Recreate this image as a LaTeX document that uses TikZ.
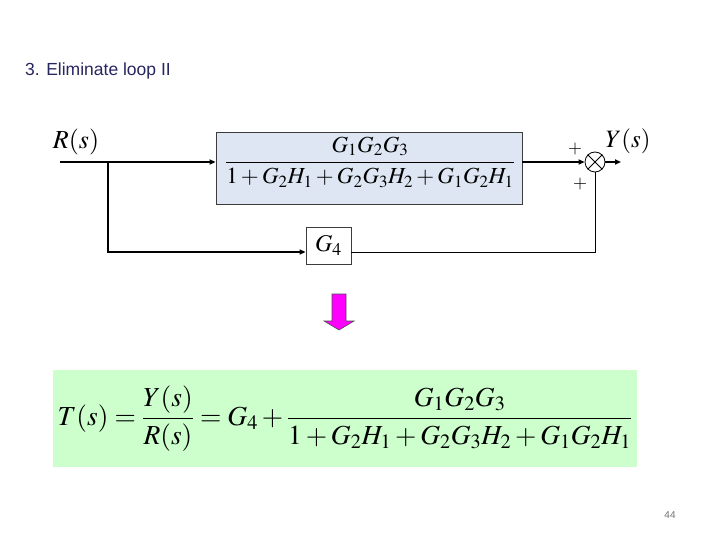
\documentclass[tikz,border=0pt]{standalone}
\usepackage{amsmath}
\usepackage{mathptmx}
\usepackage{fontspec}
\setmainfont{Liberation Serif}
\newfontfamily\arialfont{Liberation Sans}
\usetikzlibrary{arrows.meta}
\definecolor{titleblue}{RGB}{38,38,96}
\definecolor{boxblue}{RGB}{221,230,242}
\definecolor{eqgreen}{RGB}{204,255,204}
\definecolor{boxgray}{RGB}{60,60,60}
\definecolor{arrowpink}{RGB}{255,0,255}
\tikzset{
  sig/.style={line width=1.5pt},
  thin sig/.style={line width=0.8pt},
  tip/.style={-{Triangle[length=6pt,width=5pt]}},
  block/.style={draw=boxgray, line width=0.8pt, inner sep=0pt},
}
\begin{document}
\begin{tikzpicture}[x=1pt,y=-1pt]
  \useasboundingbox (0,0) rectangle (720,540);
  \draw
    (25,76) node[anchor=base west, inner sep=0pt, font=\arialfont\fontsize{17.5}{20}\selectfont, text=titleblue] (title) {3. Eliminate loop II}
    (76,142) node[font=\fontsize{26}{30}\selectfont] (R) {$R(s)$}
    (369,168) node[block, fill=boxblue, minimum width=306, minimum height=72] (G) {}
    (370,162) node[font=\fontsize{23}{26}\selectfont] (frac) {$\dfrac{G_1G_2G_3}{1+G_2H_1+G_2G_3H_2+G_1G_2H_1}$}
    (595,162) node[circle, draw, thin sig, minimum size=20, inner sep=0pt] (sum) {}
    (628,141) node[font=\fontsize{25}{28}\selectfont] (Y) {$Y(s)$}
    (575,149) node[font=\fontsize{18}{20}\selectfont] (p1) {$+$}
    (580,184) node[font=\fontsize{18}{20}\selectfont] (p2) {$+$}
    (328.5,245.5) node[block, minimum width=45, minimum height=37, font=\fontsize{24}{28}\selectfont] (G4) {$G_4$}
    (345,418.5) node[fill=eqgreen, minimum width=584, minimum height=97, font=\fontsize{27.5}{32}\selectfont] (T) {$T(s)=\dfrac{Y(s)}{R(s)}=G_4+\dfrac{G_1G_2G_3}{1+G_2H_1+G_2G_3H_2+G_1G_2H_1}$}
    (670,515) node[font=\arialfont\fontsize{10}{12}\selectfont, text=black!55] (page) {44};
  \coordinate (in) at (60,162);
  \coordinate (br) at (108,162);
  \coordinate (out) at (621,162);
  \draw[thin sig] (sum.north west) -- (sum.south east) (sum.north east) -- (sum.south west);
  \begin{scope}[tip]
    \draw[sig] (in) -- (in -| G.west);
    \draw[sig] (G.east |- sum) -- (sum.west);
    \draw[sig] (sum.east) -- (out);
    \draw[sig] (br) |- ([yshift=-6.5pt]G4.west);
  \end{scope}
  \draw[thin sig] ([yshift=-6.5pt]G4.east) -| (sum.south);
  \draw[draw=black!70, fill=arrowpink, line width=0.6pt]
    (332,294) -- (346,294) -- (346,321) -- (354,321) -- (339,330) -- (324,321) -- (332,321) -- cycle;
\end{tikzpicture}
\end{document}
